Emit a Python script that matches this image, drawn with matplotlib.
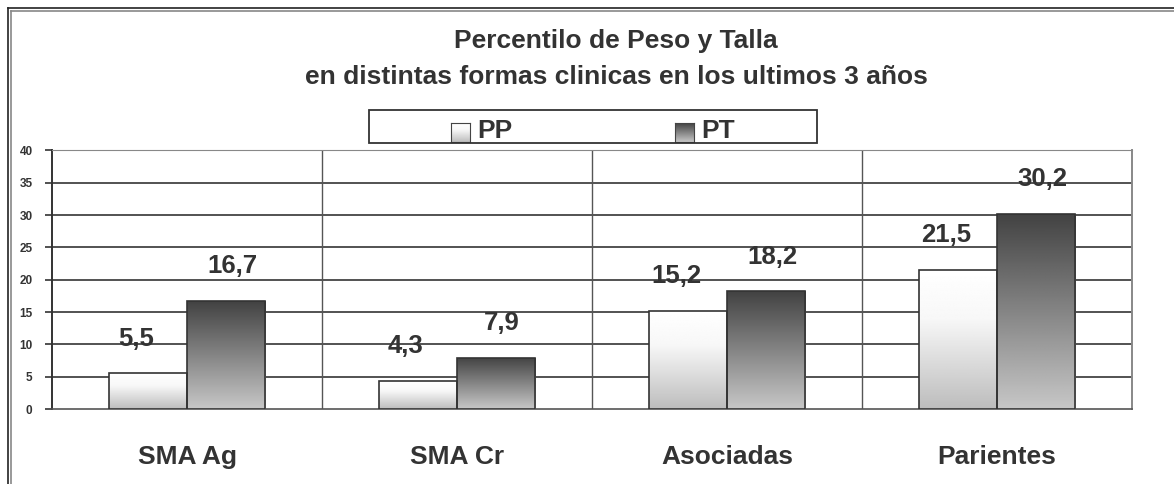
import numpy as np
import matplotlib.pyplot as plt
from matplotlib.patches import Rectangle
from matplotlib.lines import Line2D

categories = ['SMA Ag', 'SMA Cr', 'Asociadas', 'Parientes']
pp_values = [5.5, 4.3, 15.2, 21.5]
pt_values = [16.7, 7.9, 18.2, 30.2]
y_ticks = [0, 5, 10, 15, 20, 25, 30, 35, 40]
title = 'Percentilo de Peso y Talla\nen distintas formas clinicas en los ultimos 3 años'

TEXT = '#333333'
FONT = 'Liberation Sans'
W, H = 1174, 484

plt.rcParams.update({'font.family': FONT, 'font.weight': 'bold'})

# gradients: top -> bottom
grad = np.linspace(0, 1, 256).reshape(-1, 1)
pp_grad = np.interp(grad, [0, 0.35, 1], [1.0, 0.97, 0.74])
pt_grad = np.interp(grad, [0, 1], [0.26, 0.78])

fig = plt.figure(figsize=(W / 100, H / 100), dpi=100)
fig.patch.set_facecolor('white')


def fx(px):
    return px / W


def fy(py):
    return 1 - py / H


ax = fig.add_axes([fx(52), fy(409), fx(1132) - fx(52), fy(150.5) - fy(409)])
x = np.arange(len(categories))
bw = 0.289

bars_pp = ax.bar(x - bw / 2, pp_values, bw, facecolor='none', edgecolor='#333333',
                 linewidth=1.2, zorder=4)
bars_pt = ax.bar(x + bw / 2, pt_values, bw, facecolor='none', edgecolor='#333333',
                 linewidth=1.2, zorder=4)

for bars, g in ((bars_pp, pp_grad), (bars_pt, pt_grad)):
    for b in bars:
        x0, w, h = b.get_x(), b.get_width(), b.get_height()
        im = ax.imshow(g, cmap='gray', vmin=0, vmax=1, aspect='auto',
                       extent=[x0, x0 + w, 0, h], zorder=3, interpolation='bilinear')
        im.set_clip_path(b)

for bars, vals, dx in ((bars_pp, pp_values, -12), (bars_pt, pt_values, 6)):
    for b, v in zip(bars, vals):
        ax.annotate(f'{v:.1f}'.replace('.', ','),
                    (b.get_x() + b.get_width() / 2, v),
                    textcoords='offset points', xytext=(dx * 0.72, 25),
                    ha='center', va='center', fontsize=18.5, fontweight='bold',
                    color=TEXT, zorder=5)

ax.set_xlim(-0.5, len(categories) - 0.5)
ax.set_ylim(0, 40)
ax.set_yticks(y_ticks)
ax.set_yticklabels([str(t) for t in y_ticks], fontsize=8.5, fontweight='bold', color=TEXT)
ax.tick_params(axis='y', direction='out', length=5, width=1.2, color='#333333', pad=9)
ax.set_xticks(x)
ax.set_xticklabels(categories, fontsize=19, fontweight='bold', color=TEXT)
ax.tick_params(axis='x', length=0, pad=26)

for t in y_ticks[1:-1]:
    ax.axhline(t, color='#444444', lw=1.3, zorder=1)
for s in x[:-1] + 0.5:
    ax.axvline(s, color='#555555', lw=1.0, zorder=1)

ax.spines['left'].set_color('#333333')
ax.spines['left'].set_linewidth(1.4)
ax.spines['bottom'].set_color('#555555')
ax.spines['bottom'].set_linewidth(1.2)
ax.spines['top'].set_color('#888888')
ax.spines['right'].set_color('#888888')
ax.spines['right'].set_linewidth(1.4)

fig.text(fx(616), fy(59), title, ha='center', va='center', fontsize=19,
         fontweight='bold', color=TEXT, linespacing=1.62)

# legend box
fig.add_artist(Rectangle((fx(369), fy(143)), fx(817) - fx(369), fy(110) - fy(143),
                         transform=fig.transFigure, facecolor='none',
                         edgecolor='#333333', lw=1.3))
for px, label, g in ((451, 'PP', pp_grad), (675, 'PT', pt_grad)):
    sw = fig.add_axes([fx(px), fy(142), fx(19), fy(123) - fy(142)])
    sw.imshow(g, cmap='gray', vmin=0, vmax=1, aspect='auto')
    sw.set_xticks([])
    sw.set_yticks([])
    for sp in sw.spines.values():
        sp.set_color('#444444')
    fig.text(fx(px + 26), fy(131), label, ha='left', va='center', fontsize=19,
             fontweight='bold', color=TEXT)

# outer double border
for off, col in ((8, '#222222'), (10.5, '#888888')):
    fig.add_artist(Line2D([fx(off), fx(off)], [fy(off), 0], transform=fig.transFigure,
                          color=col, lw=1.2))
    fig.add_artist(Line2D([fx(off), 1], [fy(off), fy(off)], transform=fig.transFigure,
                          color=col, lw=1.2))

fig.savefig('out.png', dpi=100, facecolor='white')
